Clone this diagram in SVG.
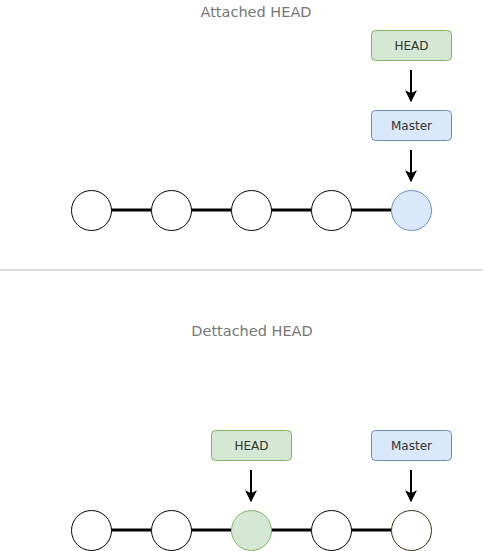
<svg xmlns="http://www.w3.org/2000/svg" width="483" height="551" viewBox="0 0 483 551">
<defs>
<style>
.title{font-family:"DejaVu Sans",Verdana,sans-serif;font-size:14.5px;fill:#777777;text-anchor:middle}
.lbl{font-family:"DejaVu Sans",Verdana,sans-serif;font-size:12px;fill:#333333;text-anchor:middle;dominant-baseline:central}
.green{fill:#d5e8d4;stroke:#82b366;stroke-width:1}
.blue{fill:#dae8fc;stroke:#6c8ebf;stroke-width:1}
.commit{fill:#ffffff;stroke:#000000;stroke-width:1}
.edge{stroke:#000000;stroke-width:3;fill:none}
.arrow{stroke:#000000;stroke-width:2;fill:none;marker-end:url(#ah)}
</style>
<marker id="ah" viewBox="0 0 10 10" refX="9" refY="5" markerWidth="6" markerHeight="6" markerUnits="strokeWidth" orient="auto">
<path d="M0,0 L10,5 L0,10 L2.5,5 z" fill="#000000"/>
</marker>
</defs>
<rect width="483" height="551" fill="#ffffff"/>
<text class="title" x="256" y="17">Attached HEAD</text>
<text class="title" x="252" y="336">Dettached HEAD</text>
<line x1="0" y1="270" x2="483" y2="270" stroke="#dddddd" stroke-width="2"/>
<g id="connectors">
<line class="edge" x1="111" y1="210" x2="151" y2="210"/>
<line class="edge" x1="191" y1="210" x2="231" y2="210"/>
<line class="edge" x1="271" y1="210" x2="311" y2="210"/>
<line class="edge" x1="351" y1="210" x2="391" y2="210"/>
<line class="arrow" x1="411" y1="70" x2="411" y2="101"/>
<line class="arrow" x1="411" y1="150" x2="411" y2="181"/>
<line class="edge" x1="111" y1="530" x2="151" y2="530"/>
<line class="edge" x1="191" y1="530" x2="231" y2="530"/>
<line class="edge" x1="271" y1="530" x2="311" y2="530"/>
<line class="edge" x1="351" y1="530" x2="391" y2="530"/>
<line class="arrow" x1="251" y1="470" x2="251" y2="501"/>
<line class="arrow" x1="411" y1="470" x2="411" y2="501"/>
</g>
<g id="top-head"><rect class="green" x="371.5" y="30.5" width="80" height="30" rx="4"/><text class="lbl" x="411.5" y="45.5">HEAD</text></g>
<g id="top-master"><rect class="blue" x="371.5" y="110.5" width="80" height="30" rx="4"/><text class="lbl" x="411.5" y="125.5">Master</text></g>
<g id="t1"><circle class="commit" cx="91.5" cy="210.5" r="20"/></g>
<g id="t2"><circle class="commit" cx="171.5" cy="210.5" r="20"/></g>
<g id="t3"><circle class="commit" cx="251.5" cy="210.5" r="20"/></g>
<g id="t4"><circle class="commit" cx="331.5" cy="210.5" r="20"/></g>
<g id="t5"><circle class="blue" cx="411.5" cy="210.5" r="20"/></g>
<g id="bot-head"><rect class="green" x="211.5" y="430.5" width="80" height="30" rx="4"/><text class="lbl" x="251.5" y="445.5">HEAD</text></g>
<g id="bot-master"><rect class="blue" x="371.5" y="430.5" width="80" height="30" rx="4"/><text class="lbl" x="411.5" y="445.5">Master</text></g>
<g id="b1"><circle class="commit" cx="91.5" cy="530.5" r="20"/></g>
<g id="b2"><circle class="commit" cx="171.5" cy="530.5" r="20"/></g>
<g id="b3"><circle class="green" cx="251.5" cy="530.5" r="20"/></g>
<g id="b4"><circle class="commit" cx="331.5" cy="530.5" r="20"/></g>
<g id="b5"><circle class="commit" cx="411.5" cy="530.5" r="20" style="stroke:#3a2e10"/></g>
</svg>
